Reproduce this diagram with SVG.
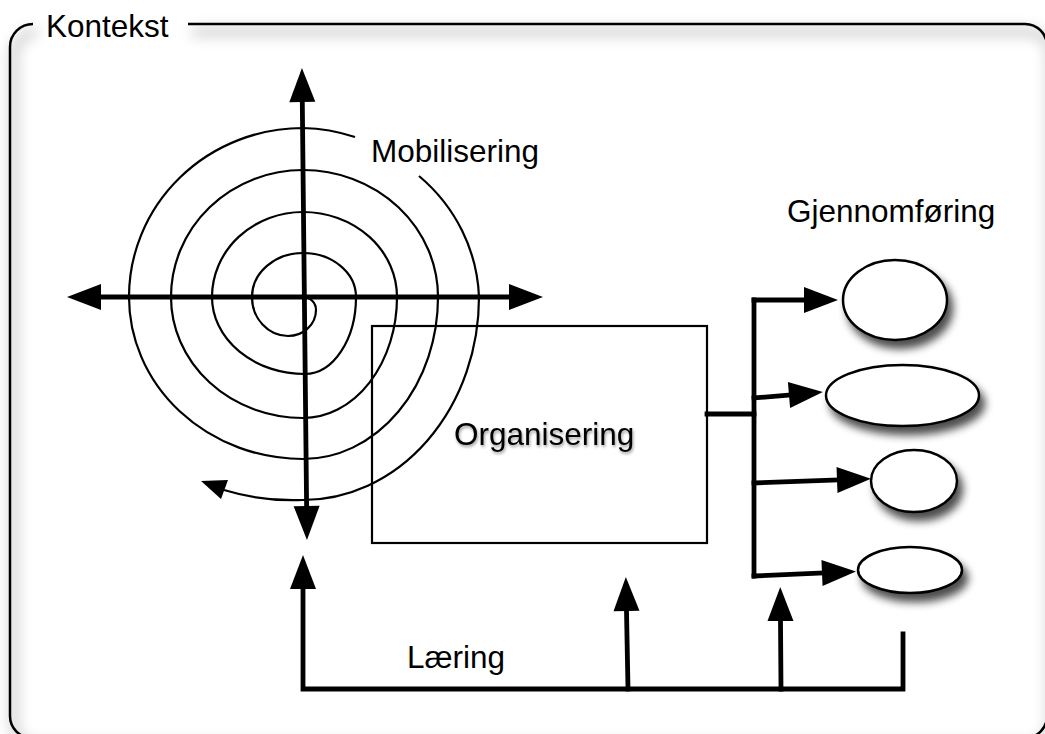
<svg xmlns="http://www.w3.org/2000/svg" width="1045" height="734" viewBox="0 0 1045 734">
  <style>
    .lbl { font-family: "Liberation Sans", Arial, Helvetica, sans-serif; font-size: 31.5px; fill: #000; }
    .thin { fill: none; stroke: #000; stroke-width: 2.2; }
    .thick { fill: none; stroke: #000; stroke-width: 4.8; stroke-linecap: square; stroke-linejoin: miter; }
    .ell { fill: #fff; stroke: #000; stroke-width: 2.5; filter: url(#shadow); }
  </style>
  <defs>
    <marker id="arrow" markerUnits="userSpaceOnUse" markerWidth="36" markerHeight="28" refX="0" refY="13" orient="auto-start-reverse" overflow="visible">
      <path d="M0,0 L34,13 L0,26 Z" fill="#000"/>
    </marker>
    <filter id="shadow" x="-30%" y="-30%" width="170%" height="180%">
      <feGaussianBlur in="SourceAlpha" stdDeviation="4"/>
      <feOffset dx="5" dy="8" result="b"/>
      <feComponentTransfer><feFuncA type="linear" slope="0.7"/></feComponentTransfer>
      <feMerge><feMergeNode/><feMergeNode in="SourceGraphic"/></feMerge>
    </filter>
    <filter id="frameShadow" x="-10%" y="-10%" width="120%" height="120%">
      <feGaussianBlur stdDeviation="7"/>
    </filter>
    <filter id="textShadow" x="-10%" y="-30%" width="120%" height="160%">
      <feGaussianBlur in="SourceAlpha" stdDeviation="1.5"/>
      <feOffset dx="1" dy="2"/>
      <feComponentTransfer><feFuncA type="linear" slope="0.4"/></feComponentTransfer>
      <feMerge><feMergeNode/><feMergeNode in="SourceGraphic"/></feMerge>
    </filter>
  </defs>

  <rect x="0" y="0" width="1045" height="734" fill="#fff"/>

  <g id="kontekst">
    <path d="M188,24 H1025 A22,22 0 0 1 1047,46 V716 A22,22 0 0 1 1025,738 H32 A22,22 0 0 1 10,716 V47 A23,23 0 0 1 33,24" fill="none" stroke="#000" stroke-opacity="0.28" stroke-width="6" transform="translate(4,8)" filter="url(#frameShadow)"/>
    <path d="M188,24 H1025 A22,22 0 0 1 1047,46 V716 A22,22 0 0 1 1025,738 H32 A22,22 0 0 1 10,716 V47 A23,23 0 0 1 33,24" fill="none" stroke="#000" stroke-width="2.5"/>
    <text class="lbl" x="46" y="37">Kontekst</text>
  </g>

  <g id="mobilisering">
    <path class="thin" d="M303,297 A13,13 0 0 1 316,310 A28,26 0 0 1 288,336 A36,39 0 0 1 252,297 A51,44 0 0 1 303,253 A53,44 0 0 1 356,297 A51,77 0 0 1 305,374 A93,77 0 0 1 212,297 A91,85 0 0 1 303,212 A94,85 0 0 1 397,297 A94,121 0 0 1 303,418 A132,121 0 0 1 171,297 A132,127 0 0 1 303,170 A135,127 0 0 1 438,297 A135,162 0 0 1 303,459 A174,162 0 0 1 129,297 A174,169 0 0 1 303,128 A176,169 0 0 1 355,137 M419,176 A176,169 0 0 1 479,297 A176,203 0 0 1 303,500 A220,203 0 0 1 224,490"/>
    <polygon points="201,481 228,480 221,499" fill="#000"/>
    <line class="thick" x1="101" y1="297" x2="509" y2="297" stroke-linecap="butt" marker-start="url(#arrow)" marker-end="url(#arrow)"/>
    <line class="thick" x1="302.3" y1="102" x2="306.6" y2="506" stroke-linecap="butt" marker-start="url(#arrow)" marker-end="url(#arrow)"/>
    <text class="lbl" x="371" y="162">Mobilisering</text>
  </g>

  <g id="organisering">
    <rect x="372" y="326" width="335" height="217" fill="none" stroke="#000" stroke-width="2.2"/>
    <text class="lbl" x="454" y="445" filter="url(#textShadow)">Organisering</text>
  </g>

  <g id="connectors">
    <path class="thick" d="M707,414 H754"/>
    <path class="thick" d="M754,300 V576"/>
    <line class="thick" x1="754" y1="300" x2="804" y2="300" stroke-linecap="butt" marker-end="url(#arrow)"/>
    <line class="thick" x1="754" y1="398" x2="789" y2="395" stroke-linecap="butt" marker-end="url(#arrow)"/>
    <line class="thick" x1="754" y1="483" x2="837" y2="480" stroke-linecap="butt" marker-end="url(#arrow)"/>
    <line class="thick" x1="754" y1="576" x2="822" y2="573" stroke-linecap="butt" marker-end="url(#arrow)"/>
    <path class="thick" d="M903,634 V689 H303 V589" stroke-linecap="butt" marker-end="url(#arrow)"/>
    <line class="thick" x1="628" y1="689" x2="626.5" y2="611" stroke-linecap="butt" marker-end="url(#arrow)"/>
    <line class="thick" x1="781" y1="689" x2="780.5" y2="621" stroke-linecap="butt" marker-end="url(#arrow)"/>
  </g>

  <g id="gjennomforing">
    <text class="lbl" x="787" y="222">Gjennomføring</text>
  </g>
  <g id="oppgave1"><ellipse class="ell" cx="895" cy="300" rx="52" ry="40"/></g>
  <g id="oppgave2"><ellipse class="ell" cx="902.5" cy="395.5" rx="76.5" ry="30.5"/></g>
  <g id="oppgave3"><ellipse class="ell" cx="914" cy="481" rx="43" ry="31"/></g>
  <g id="oppgave4"><ellipse class="ell" cx="910" cy="570" rx="52" ry="23"/></g>

  <g id="laering">
    <text class="lbl" x="407" y="668">Læring</text>
  </g>
</svg>
